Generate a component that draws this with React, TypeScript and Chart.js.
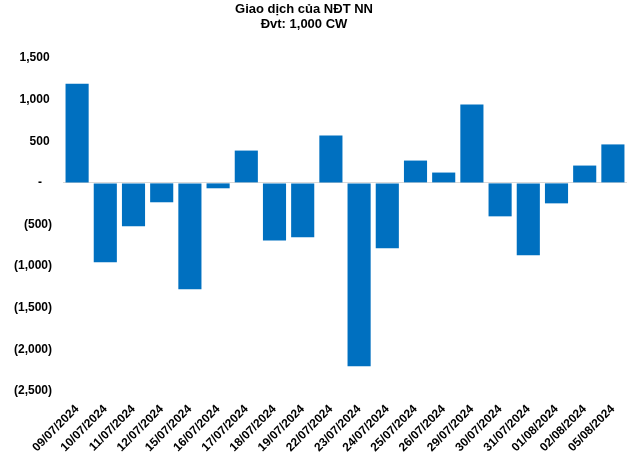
import React, { useEffect, useRef } from "react";
import { Chart, registerables } from "chart.js";

Chart.register(...registerables);

const TITLE_LINES = ["Giao dịch của NĐT NN", "Đvt: 1,000 CW"];

const CATEGORIES = [
  "09/07/2024", "10/07/2024", "11/07/2024", "12/07/2024", "15/07/2024",
  "16/07/2024", "17/07/2024", "18/07/2024", "19/07/2024", "22/07/2024",
  "23/07/2024", "24/07/2024", "25/07/2024", "26/07/2024", "29/07/2024",
  "30/07/2024", "31/07/2024", "01/08/2024", "02/08/2024", "05/08/2024",
];

const NET_VALUES = [
  1192, -953, -521, -233, -1277,
  -65, 388, -693, -653, 568,
  -2202, -785, 268, 124, 940,
  -402, -870, -246, 208, 462,
];

const Y_MIN = -2500;
const Y_MAX = 1500;
const Y_STEP = 500;

const FONT = "'Liberation Sans', Arial, sans-serif";

function fmt(v: number): string {
  const n = Math.abs(v).toLocaleString("en-US");
  if (v === 0) return "-   ";
  if (v < 0) return "(" + n + ")";
  return n + "\u2009";
}

const titlePlugin = {
  id: "customTitle",
  afterDraw(chart: any) {
    const ctx = chart.ctx;
    ctx.save();
    ctx.fillStyle = "#000";
    ctx.font = `bold 13px ${FONT}`;
    ctx.textAlign = "center";
    ctx.textBaseline = "alphabetic";
    ctx.fillText(TITLE_LINES[0], 304, 13);
    ctx.fillText(TITLE_LINES[1], 304, 28);
    ctx.restore();
  },
};

export default function App() {
  const ref = useRef<HTMLCanvasElement | null>(null);
  useEffect(() => {
    if (!ref.current) return;
    const chart = new Chart(ref.current, {
      type: "bar",
      data: {
        labels: CATEGORIES,
        datasets: [
          {
            data: NET_VALUES,
            backgroundColor: "#0070C0",
            borderWidth: 0,
            barPercentage: 0.82,
            categoryPercentage: 1,
          },
        ],
      },
      options: {
        animation: false,
        responsive: false,
        maintainAspectRatio: false,
        layout: { padding: { top: 58, right: 13, left: 0, bottom: 0 } },
        plugins: {
          legend: { display: false },
          title: { display: false },
          tooltip: { enabled: false },
        },
        scales: {
          x: {
            grid: { display: false },
            border: { display: false },
            ticks: {
              color: "#000",
              font: { family: FONT, size: 12, weight: "bold" },
              minRotation: 45,
              maxRotation: 45,
              autoSkip: false,
              padding: 3,
            },
            afterFit(scale: any) {
              scale.height = 62;
            },
          },
          y: {
            min: Y_MIN,
            max: Y_MAX,
            border: { display: false },
            grid: {
              drawTicks: false,
              color: (c: any) => (c.tick && c.tick.value === 0 ? "#d9d9d9" : "rgba(0,0,0,0)"),
              lineWidth: 1,
            },
            ticks: {
              stepSize: Y_STEP,
              color: "#000",
              font: { family: FONT, size: 12, weight: "bold" },
              padding: 11,
              callback: (v: any) => fmt(Number(v)),
            },
            afterFit(scale: any) {
              scale.width = 63;
            },
          },
        },
      },
      plugins: [titlePlugin],
    });
    return () => chart.destroy();
  }, []);
  return (
    <div style={{ position: "absolute", left: 0, top: 0, width: 640, height: 453, background: "#fff" }}>
      <canvas ref={ref} width={640} height={453} style={{ width: 640, height: 453 }} />
    </div>
  );
}
